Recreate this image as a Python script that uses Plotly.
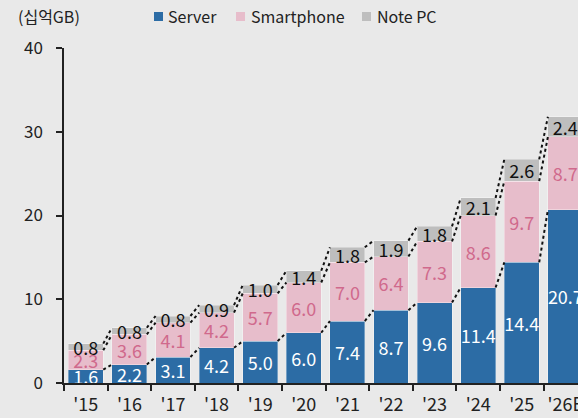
import plotly.graph_objects as go

years = ["'15", "'16", "'17", "'18", "'19", "'20", "'21", "'22", "'23", "'24", "'25", "'26E"]
server = [1.6, 2.2, 3.1, 4.2, 5.0, 6.0, 7.4, 8.7, 9.6, 11.4, 14.4, 20.7]
smartphone = [2.3, 3.6, 4.1, 4.2, 5.7, 6.0, 7.0, 6.4, 7.3, 8.6, 9.7, 8.7]
notepc = [0.8, 0.8, 0.8, 0.9, 1.0, 1.4, 1.8, 1.9, 1.8, 2.1, 2.6, 2.4]
series_names = ["Server", "Smartphone", "Note PC"]
y_ticks = [0, 10, 20, 30, 40]
unit_label = "(십억GB)"

FONT = "Noto Sans CJK KR"
C_SERVER = "#2c6ca5"
C_SMART = "#e7bdcb"
C_NOTE = "#bebebe"
BG = "#e9e9e9"
BAR_W = 0.8
TXT = "#222222"

# plot area geometry (pixels) used to place the custom legend in paper coords
L, R, T, B, W, H = 64, 0, 48, 35, 578, 418
PW, PH = W - L - R, H - T - B


def px_x(px):
    return (px - L) / PW


def px_y(py):
    return (H - B - py) / PH


xs = list(range(len(years)))

fig = go.Figure()
for name, vals, col, tcol in [
    (series_names[0], server, C_SERVER, "white"),
    (series_names[1], smartphone, C_SMART, "#d0698c"),
    (series_names[2], notepc, C_NOTE, "#111111"),
]:
    fig.add_trace(go.Bar(
        x=xs, y=vals, name=name, width=BAR_W,
        marker=dict(color=col, line=dict(width=1, color="rgba(255,255,255,0.35)")),
        text=[f"{v:.1f}" for v in vals],
        textposition="inside", insidetextanchor="middle", textangle=0,
        constraintext="none",
        textfont=dict(family=FONT, size=18, color=tcol),
        hoverinfo="skip", showlegend=False,
    ))

# dotted connectors between cumulative tops
cum1 = server
cum2 = [a + b for a, b in zip(server, smartphone)]
cum3 = [a + b + c for a, b, c in zip(server, smartphone, notepc)]
for cum in (cum1, cum2, cum3):
    lx, ly = [], []
    for i in range(len(xs) - 1):
        lx += [xs[i] + BAR_W / 2, xs[i + 1] - BAR_W / 2, None]
        ly += [cum[i], cum[i + 1], None]
    fig.add_trace(go.Scatter(
        x=lx, y=ly, mode="lines", showlegend=False, hoverinfo="skip",
        cliponaxis=True,
        line=dict(color="#111111", width=2, dash="dot"),
    ))

# custom legend (square + label), placed like the reference
shapes, annotations = [], []
leg_items = [(series_names[0], C_SERVER, 154, 166),
             (series_names[1], C_SMART, 236, 249),
             (series_names[2], C_NOTE, 362, 375)]
for name, col, sq_x, tx_x in leg_items:
    shapes.append(dict(type="rect", xref="paper", yref="paper",
                       x0=px_x(sq_x), x1=px_x(sq_x + 9), y0=px_y(21), y1=px_y(12),
                       fillcolor=col, line=dict(width=0)))
    annotations.append(dict(text=name, xref="paper", yref="paper",
                            x=px_x(tx_x), y=px_y(16.5), xanchor="left", yanchor="middle",
                            showarrow=False, font=dict(family=FONT, size=16, color=TXT)))
annotations.append(dict(
    text=unit_label, xref="paper", yref="paper",
    x=px_x(16), y=px_y(16.5), xanchor="left", yanchor="middle",
    showarrow=False, font=dict(family=FONT, size=16, color=TXT),
))

fig.update_layout(
    barmode="stack",
    width=W, height=H,
    paper_bgcolor=BG, plot_bgcolor=BG,
    margin=dict(l=L, r=R, t=T, b=B, autoexpand=False),
    font=dict(family=FONT, size=16, color=TXT),
    showlegend=False,
    shapes=shapes,
    annotations=annotations,
)
fig.update_xaxes(
    range=[-0.5, 11.29],
    tickvals=xs, ticktext=years, ticks="",
    minor=dict(tickvals=[i - 0.5 for i in xs] + [len(xs) - 0.5], ticks="outside",
               ticklen=6, tickcolor=TXT, tickwidth=1.5),
    showline=True, linecolor=TXT, linewidth=1.5,
    showgrid=False, zeroline=False, ticklabelstandoff=5,
    ticklabeloverflow="allow",
    tickfont=dict(family=FONT, size=18, color=TXT),
)
fig.update_yaxes(
    range=[0, 40], tickvals=y_ticks,
    ticks="outside", ticklen=6, tickcolor=TXT, tickwidth=1.5,
    showline=True, linecolor=TXT, linewidth=1.5,
    showgrid=False, zeroline=False, ticklabelstandoff=10,
    tickfont=dict(family=FONT, size=17, color=TXT),
)

fig.write_html(
    "out.html",
    config={"displayModeBar": False},
    post_script="document.body.style.margin='0';document.body.style.background='%s';" % BG,
)
